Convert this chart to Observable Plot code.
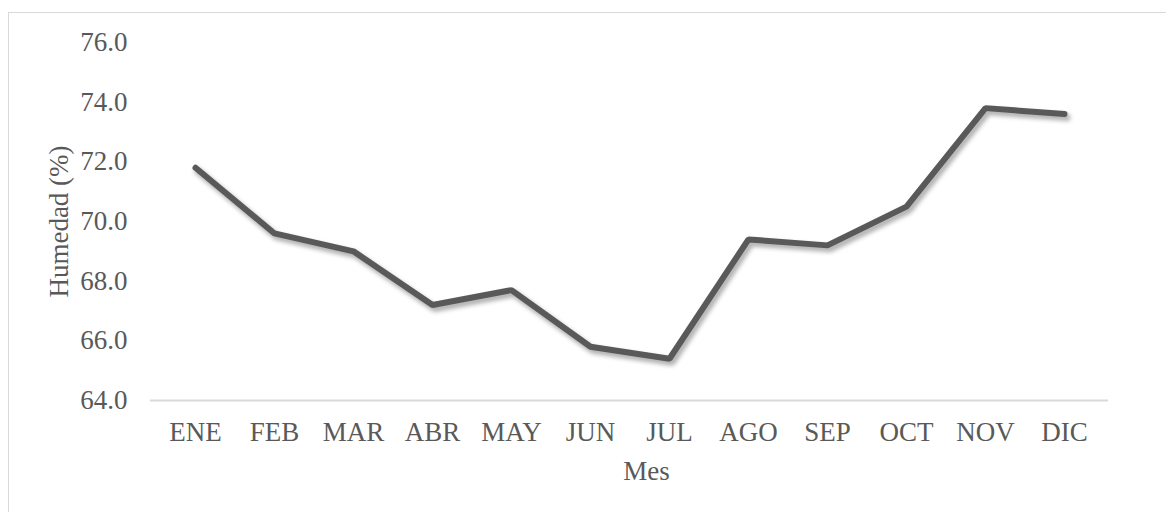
<!DOCTYPE html>
<html>
<head>
<meta charset="utf-8">
<script src="https://cdn.jsdelivr.net/npm/d3@7"></script>
<script src="https://cdn.jsdelivr.net/npm/@observablehq/plot@0.6"></script>
<style>
  html, body { margin: 0; padding: 0; background: #fff; overflow: hidden; }
  #wrap { position: relative; width: 1166px; height: 512px; overflow: hidden; }
  #border { position: absolute; left: 8px; top: 12px; width: 1200px; height: 600px; border: 1px solid #d9d9d9; box-sizing: border-box; }
  #chart { position: absolute; left: 0; top: 0; }
</style>
</head>
<body>
<div id="wrap"><div id="border"></div><div id="chart"></div></div>
<script>
const months = ["ENE","FEB","MAR","ABR","MAY","JUN","JUL","AGO","SEP","OCT","NOV","DIC"];
const humidity = [71.8, 69.6, 69.0, 67.2, 67.7, 65.8, 65.4, 69.4, 69.2, 70.5, 73.8, 73.6];
const yTicks = [64, 66, 68, 70, 72, 74, 76];
const xTitle = "Mes";
const yTitle = "Humedad (%)";

const data = months.map((m, i) => ({month: m, value: humidity[i]}));
const textColor = "#595959";
const fs = 27;

const plot = Plot.plot({
  width: 1166,
  height: 512,
  marginLeft: 150,
  marginRight: 58,
  marginTop: 42,
  marginBottom: 112,
  style: {fontFamily: "'Liberation Serif', 'Times New Roman', serif", fontSize: fs + "px", color: textColor, background: "transparent"},
  x: {type: "point", domain: months, padding: 0.5, label: null},
  y: {domain: [64, 76], label: null},
  marks: [
    Plot.ruleY([64], {stroke: "#d9d9d9", strokeWidth: 2}),
    Plot.axisY({ticks: yTicks, tickFormat: d => d.toFixed(1), tickSize: 0, tickPadding: 23, fill: textColor, fontSize: fs}),
    Plot.axisX({tickSize: 0, tickPadding: 21, fill: textColor, fontSize: fs}),
    Plot.text([xTitle], {frameAnchor: "bottom", dx: 17, dy: 60, fill: textColor, fontSize: fs, lineAnchor: "top"}),
    Plot.text([yTitle], {frameAnchor: "left", textAnchor: "middle", dx: -91, rotate: -90, fill: textColor, fontSize: fs}),
    // shadow
    Plot.line(data, {x: "month", y: "value", dx: 2.5, dy: 3.5, stroke: "#000", strokeOpacity: 0.3, strokeWidth: 7, strokeLinecap: "round", strokeLinejoin: "miter"}),
    Plot.line(data, {x: "month", y: "value", stroke: "#595959", strokeWidth: 6, strokeLinecap: "round", strokeLinejoin: "miter"})
  ]
});

// blur the shadow line
const ns = "http://www.w3.org/2000/svg";
const defs = document.createElementNS(ns, "defs");
defs.innerHTML = `<filter id="blurShadow" x="-10%" y="-30%" width="120%" height="160%"><feGaussianBlur stdDeviation="2"/></filter>`;
plot.insertBefore(defs, plot.firstChild);
const lines = plot.querySelectorAll('g[aria-label="line"]');
if (lines.length) lines[0].setAttribute("filter", "url(#blurShadow)");

document.getElementById("chart").appendChild(plot);
</script>
</body>
</html>
